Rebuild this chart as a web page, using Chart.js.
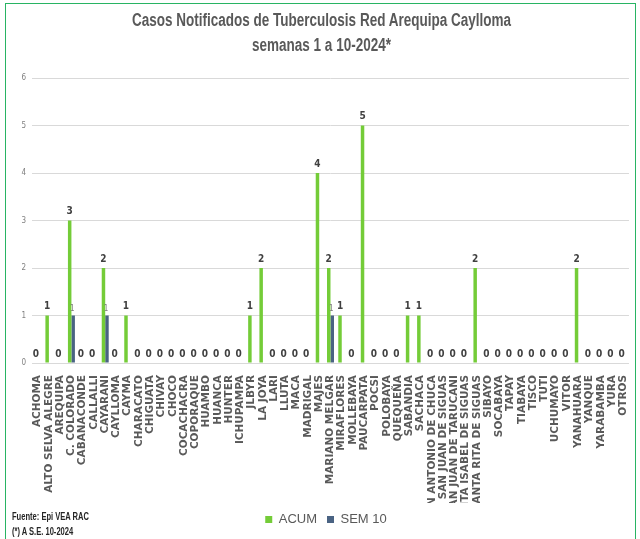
<!DOCTYPE html>
<html>
<head>
<meta charset="utf-8">
<title>Casos Notificados de Tuberculosis Red Arequipa Caylloma</title>
<script src="https://cdn.jsdelivr.net/npm/chart.js@4.4.1/dist/chart.umd.min.js"></script>
<style>
  html, body { margin: 0; padding: 0; background: #fff; }
  #wrap { position: relative; width: 640px; height: 539px; overflow: hidden; }
  #marco { position: absolute; left: 5px; top: 3px; width: 631px; height: 600px;
           border: 1.5px solid #28b463; box-sizing: border-box; pointer-events: none; }
  #titulo { position: absolute; left: 0; top: 8px; width: 640px; text-align: center;
            font-family: "Liberation Sans", Arial, sans-serif; font-weight: bold; font-size: 18px;
            line-height: 25px; color: #595959; transform: scaleX(0.75); transform-origin: 326px 0; }
  .nota { position: absolute; left: 12px; font-family: "Liberation Sans", Arial, sans-serif;
          font-weight: bold; font-size: 10.5px; color: #262626; transform: scaleX(0.72); transform-origin: 0 0; }
</style>
</head>
<body>
<div id="wrap">
  <canvas id="grafico" width="640" height="539"></canvas>
  <div id="marco"></div>
  <div id="titulo">Casos Notificados de Tuberculosis Red Arequipa Caylloma<br>semanas 1 a 10-2024*</div>
  <div class="nota" style="top:510px">Fuente: Epi VEA RAC</div>
  <div class="nota" style="top:525px">(*) A S.E. 10-2024</div>
</div>
<script>
const distritos = ['ACHOMA', 'ALTO SELVA ALEGRE', 'AREQUIPA', 'C. COLORADO', 'CABANACONDE', 'CALLALLI',
  'CAYARANI', 'CAYLLOMA', 'CAYMA', 'CHARACATO', 'CHIGUATA', 'CHIVAY', 'CHOCO', 'COCACHACRA', 'COPORAQUE',
  'HUAMBO', 'HUANCA', 'HUNTER', 'ICHUPAMPA', 'JLBYR', 'LA JOYA', 'LARI', 'LLUTA', 'MACA', 'MADRIGAL',
  'MAJES', 'MARIANO MELGAR', 'MIRAFLORES', 'MOLLEBAYA', 'PAUCARPATA', 'POCSI', 'POLOBAYA', 'QUEQUEÑA',
  'SABANDIA', 'SACHACA', 'SAN ANTONIO DE CHUCA', 'SAN JUAN DE SIGUAS', 'SAN JUAN DE TARUCANI',
  'SANTA ISABEL DE SIGUAS', 'SANTA RITA DE SIGUAS', 'SIBAYO', 'SOCABAYA', 'TAPAY', 'TIABAYA', 'TISCO',
  'TUTI', 'UCHUMAYO', 'VITOR', 'YANAHUARA', 'YANQUE', 'YARABAMBA', 'YURA', 'OTROS'];

const acum = [0, 1, 0, 3, 0, 0, 2, 0, 1, 0, 0, 0, 0, 0, 0, 0, 0, 0, 0, 1, 2, 0, 0, 0, 0,
  4, 2, 1, 0, 5, 0, 0, 0, 1, 1, 0, 0, 0, 0, 2, 0, 0, 0, 0, 0, 0, 0, 0, 2, 0, 0, 0, 0];

const sem10 = [0, 0, 0, 1, 0, 0, 1, 0, 0, 0, 0, 0, 0, 0, 0, 0, 0, 0, 0, 0, 0, 0, 0, 0, 0,
  0, 1, 0, 0, 0, 0, 0, 0, 0, 0, 0, 0, 0, 0, 0, 0, 0, 0, 0, 0, 0, 0, 0, 0, 0, 0, 0, 0];

const ticksY = [0, 1, 2, 3, 4, 5, 6];

// etiquetas de valor encima de las barras
const etiquetas = {
  id: 'etiquetas',
  afterDatasetsDraw(chart) {
    const ctx = chart.ctx;
    ctx.save();
    ctx.textAlign = 'center';
    ctx.textBaseline = 'bottom';
    chart.data.datasets.forEach((ds, i) => {
      const meta = chart.getDatasetMeta(i);
      meta.data.forEach((bar, j) => {
        const v = ds.data[j];
        if (i === 0) {
          ctx.font = 'bold 10px "DejaVu Sans Condensed", "DejaVu Sans", sans-serif';
          ctx.fillStyle = '#404040';
          ctx.fillText(String(v), bar.x, bar.y - 4);
        } else if (v > 0) {
          ctx.font = '8px "DejaVu Sans Condensed", "DejaVu Sans", sans-serif';
          ctx.fillStyle = '#7f7f7f';
          ctx.fillText(String(v), bar.x - 1, bar.y - 3);
        }
      });
    });
    ctx.restore();
  }
};

new Chart(document.getElementById('grafico'), {
  type: 'bar',
  data: {
    labels: distritos,
    datasets: [
      { label: 'ACUM', data: acum, backgroundColor: '#74cc38', borderWidth: 0,
        categoryPercentage: 0.62, barPercentage: 1.0 },
      { label: 'SEM 10', data: sem10, backgroundColor: '#4a6383', borderWidth: 0,
        categoryPercentage: 0.62, barPercentage: 1.0 }
    ]
  },
  options: {
    responsive: false,
    animation: false,
    layout: { padding: { left: 18, right: 6, top: 78, bottom: 3 } },
    scales: {
      y: {
        min: 0,
        max: 6,
        afterBuildTicks: (scale) => { scale.ticks = ticksY.map(v => ({ value: v })); },
        afterFit: (scale) => { scale.width = 14; },
        ticks: { color: '#808080', font: { size: 8, family: '"DejaVu Sans Condensed", sans-serif' }, padding: 6 },
        grid: { color: '#d9d9d9', drawTicks: false },
        border: { display: false }
      },
      x: {
        afterFit: (scale) => { scale.height = 140; },
        ticks: {
          autoSkip: false,
          maxRotation: 90,
          minRotation: 90,
          padding: 4,
          color: '#595959',
          font: { size: 10.5, weight: 'bold', family: '"DejaVu Sans", sans-serif' }
        },
        grid: { display: false },
        border: { display: false }
      }
    },
    plugins: {
      title: { display: false },
      legend: {
        position: 'bottom',
        labels: {
          boxWidth: 7,
          boxHeight: 7,
          color: '#595959',
          padding: 10,
          font: { size: 13, family: '"Liberation Sans", Arial, sans-serif' }
        }
      },
      tooltip: { enabled: false }
    }
  },
  plugins: [etiquetas]
});
</script>
</body>
</html>
